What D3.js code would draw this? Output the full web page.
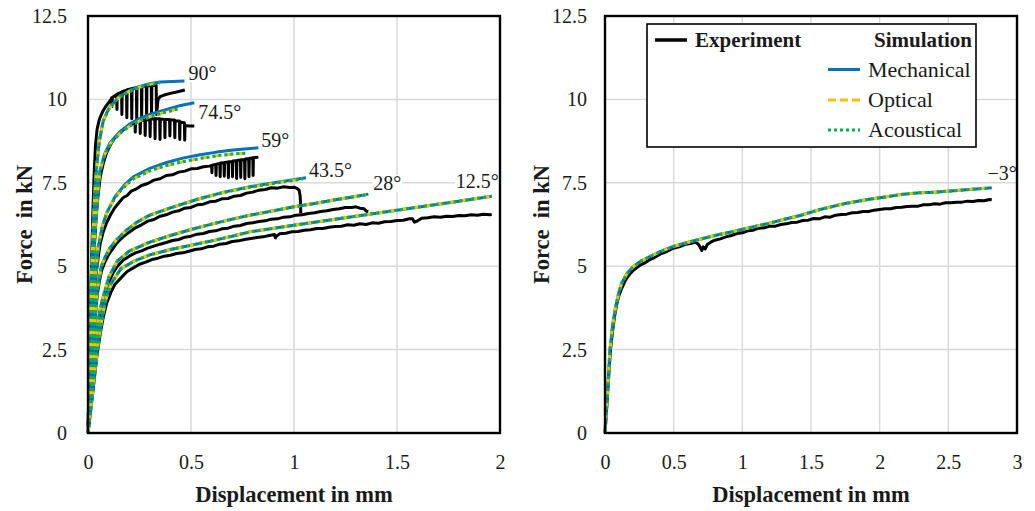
<!DOCTYPE html>
<html>
<head>
<meta charset="utf-8">
<script src="https://cdn.jsdelivr.net/npm/d3@7"></script>
<style>
  html, body { margin: 0; padding: 0; background: #fff; }
  svg { display: block; font-family: "Liberation Serif", "DejaVu Serif", serif; }
</style>
</head>
<body>
<svg id="chart" width="1035" height="511"></svg>
<script>
// ---- axis ticks ----
const yTicks = [0, 2.5, 5, 7.5, 10, 12.5];
const xTicksLeft = [0, 0.5, 1, 1.5, 2];
const xTicksRight = [0, 0.5, 1, 1.5, 2, 2.5, 3];

// ---- fibre angles ----
const anglesLeft = ["90°", "74.5°", "59°", "43.5°", "28°", "12.5°"];
const angleRight = "−3°";

// ---- experiment: force (kN) over displacement (mm) ----
const experiment90 = [[0,0],[0.006,1.8],[0.012,3.6],[0.018,5.3],[0.024,6.7],[0.03,7.8],[0.036,8.6],[0.044,9.1],[0.055,9.4],[0.07,9.62],[0.085,9.78],[0.1,9.9],[0.112,10.0],
  [0.115,10.05],[0.1165,9.78],[0.118,10.06],[0.139,10.15],[0.1405,9.7],[0.142,10.16],[0.163,10.22],[0.1645,9.55],[0.166,10.23],
  [0.187,10.28],[0.1885,9.45],[0.19,10.29],[0.211,10.32],[0.2125,9.42],[0.214,10.33],[0.235,10.35],[0.2365,9.4],[0.238,10.36],
  [0.259,10.38],[0.2605,9.42],[0.262,10.39],[0.283,10.4],[0.2845,9.4],[0.286,10.41],[0.307,10.42],[0.3085,9.45],[0.31,10.42],
  [0.331,10.42],[0.3325,9.55],[0.34,10.0],[0.35,10.08],[0.37,10.13],[0.4,10.18],[0.43,10.22],[0.47,10.28]];
const experiment745 = [[0,0],[0.008,1.5],[0.016,3.2],[0.024,4.6],[0.032,5.7],[0.04,6.5],[0.05,7.2],[0.06,7.7],[0.075,8.1],[0.09,8.4],[0.11,8.65],[0.13,8.85],[0.15,8.98],[0.17,9.08],[0.19,9.18],[0.21,9.25],
  [0.228,9.32],[0.2295,9.02],[0.231,9.33],[0.252,9.36],[0.2535,8.98],[0.255,9.37],[0.276,9.38],[0.2775,8.92],[0.279,9.39],
  [0.3,9.4],[0.3015,8.88],[0.303,9.41],[0.324,9.42],[0.3255,8.82],[0.327,9.42],[0.348,9.42],[0.3495,8.8],[0.351,9.41],
  [0.372,9.4],[0.3735,8.85],[0.375,9.4],[0.396,9.4],[0.3975,8.9],[0.399,9.39],[0.42,9.38],[0.4215,8.85],[0.423,9.36],
  [0.444,9.35],[0.4455,8.8],[0.447,9.32],[0.468,9.3],[0.4695,8.78],[0.471,9.22],[0.49,9.2],[0.516,9.2]];
const experiment59 = [[0,0],[0.01,1.4],[0.02,2.9],[0.03,4.0],[0.04,4.8],[0.05,5.3],[0.06,5.7],[0.075,6.05],[0.09,6.3],[0.11,6.55],[0.13,6.75],[0.15,6.9],[0.17,7.05],[0.19,7.12],[0.21,7.25],[0.23,7.3],[0.26,7.42],[0.29,7.48],[0.32,7.58],[0.35,7.62],[0.38,7.72],[0.41,7.74],[0.44,7.82],[0.47,7.85],[0.5,7.92],[0.53,7.93],[0.56,7.98],[0.59,8.0],
  [0.6,8.02],[0.6015,7.8],[0.603,8.03],[0.62,8.05],[0.6215,7.72],[0.623,8.06],[0.64,8.08],[0.6415,7.68],[0.643,8.09],
  [0.66,8.1],[0.6615,7.7],[0.663,8.11],[0.68,8.12],[0.6815,7.65],[0.683,8.13],[0.7,8.14],[0.7015,7.68],[0.703,8.15],
  [0.72,8.16],[0.7215,7.63],[0.723,8.17],[0.74,8.18],[0.7415,7.66],[0.743,8.19],[0.76,8.2],[0.7615,7.62],[0.763,8.21],
  [0.78,8.22],[0.7815,7.68],[0.783,8.23],[0.8,8.25],[0.8015,7.72],[0.803,8.25],[0.815,8.26],[0.827,8.27]];
const experiment435 = [[0,0],[0.012,1.3],[0.024,2.5],[0.035,3.5],[0.045,4.15],[0.055,4.55],[0.065,4.85],[0.08,5.1],[0.1,5.35],[0.12,5.52],[0.14,5.7],[0.17,5.88],[0.2,6.02],[0.23,6.15],[0.26,6.24],[0.29,6.35],[0.32,6.4],[0.35,6.5],[0.38,6.54],[0.41,6.62],[0.44,6.66],[0.47,6.74],[0.5,6.76],[0.53,6.84],[0.56,6.86],[0.59,6.93],[0.62,6.95],[0.65,7.02],[0.68,7.03],[0.71,7.1],[0.74,7.12],[0.77,7.19],[0.8,7.22],[0.83,7.28],[0.86,7.3],[0.89,7.35],[0.92,7.34],[0.95,7.38],[0.98,7.36],[1.0,7.37],[1.015,7.33],[1.025,7.28],[1.03,7.1],[1.032,6.8],[1.033,6.58]];
const experiment28 = [[0,0],[0.02,1.5],[0.035,2.6],[0.05,3.3],[0.065,3.8],[0.08,4.15],[0.1,4.5],[0.12,4.78],[0.14,4.98],[0.17,5.18],[0.2,5.3],[0.23,5.4],[0.26,5.46],[0.29,5.54],[0.32,5.6],[0.35,5.66],[0.38,5.71],[0.41,5.77],[0.44,5.8],[0.47,5.87],[0.5,5.9],[0.53,5.96],[0.56,5.98],[0.59,6.04],[0.62,6.06],[0.65,6.12],[0.68,6.14],[0.71,6.2],[0.74,6.22],[0.77,6.28],[0.8,6.3],[0.83,6.34],[0.86,6.36],[0.89,6.41],[0.92,6.42],[0.95,6.47],[0.98,6.48],[1.01,6.53],[1.04,6.54],[1.07,6.58],[1.1,6.6],[1.13,6.64],[1.16,6.66],[1.19,6.7],[1.22,6.72],[1.25,6.76],[1.28,6.76],[1.3,6.78],[1.32,6.74],[1.34,6.72],[1.35,6.66],[1.36,6.63]];
const experiment125 = [[0,0],[0.02,1.05],[0.045,2.4],[0.06,3.0],[0.075,3.5],[0.09,3.88],[0.11,4.2],[0.13,4.45],[0.16,4.65],[0.19,4.84],[0.22,4.95],[0.25,5.06],[0.28,5.12],[0.31,5.2],[0.34,5.24],[0.37,5.3],[0.4,5.33],[0.43,5.38],[0.46,5.4],[0.49,5.45],[0.52,5.5],[0.55,5.52],[0.58,5.58],[0.61,5.6],[0.64,5.66],[0.67,5.68],[0.7,5.74],[0.73,5.76],[0.76,5.8],[0.79,5.83],[0.82,5.86],[0.85,5.88],[0.88,5.92],[0.905,5.95],[0.91,5.85],[0.915,5.9],[0.93,5.97],[0.96,5.99],[0.99,6.03],[1.02,6.04],[1.05,6.08],[1.08,6.09],[1.11,6.13],[1.14,6.13],[1.17,6.17],[1.2,6.19],[1.23,6.2],[1.26,6.24],[1.29,6.23],[1.32,6.27],[1.35,6.25],[1.38,6.3],[1.41,6.29],[1.44,6.33],[1.47,6.34],[1.5,6.37],[1.53,6.38],[1.56,6.42],[1.575,6.42],[1.585,6.32],[1.6,6.36],[1.62,6.44],[1.65,6.45],[1.68,6.48],[1.71,6.47],[1.74,6.5],[1.77,6.49],[1.8,6.52],[1.83,6.51],[1.86,6.54],[1.89,6.53],[1.92,6.56],[1.95,6.54],[1.96,6.55]];
const experimentMinus3 = [[0,0],[0.01,0.6],[0.02,1.25],[0.03,1.9],[0.04,2.5],[0.055,3.05],[0.07,3.5],[0.085,3.85],[0.1,4.1],[0.12,4.32],[0.14,4.5],[0.16,4.65],[0.18,4.76],[0.206,4.88],[0.23,4.95],[0.26,5.04],[0.29,5.1],[0.328,5.2],[0.36,5.26],[0.41,5.38],[0.45,5.44],[0.498,5.54],[0.54,5.58],[0.58,5.65],[0.62,5.68],[0.66,5.72],[0.68,5.66],[0.695,5.55],[0.705,5.47],[0.715,5.58],[0.73,5.52],[0.745,5.65],[0.77,5.72],[0.8,5.78],[0.84,5.82],[0.88,5.88],[0.92,5.92],[0.96,5.98],[1.0,6.0],[1.04,6.06],[1.08,6.08],[1.12,6.14],[1.16,6.15],[1.2,6.2],[1.24,6.2],[1.28,6.25],[1.32,6.27],[1.36,6.31],[1.4,6.32],[1.44,6.37],[1.48,6.38],[1.52,6.43],[1.56,6.42],[1.6,6.48],[1.64,6.47],[1.68,6.53],[1.72,6.55],[1.76,6.56],[1.8,6.6],[1.84,6.61],[1.88,6.64],[1.92,6.64],[1.96,6.68],[2.0,6.7],[2.04,6.72],[2.08,6.72],[2.12,6.76],[2.16,6.77],[2.2,6.79],[2.24,6.8],[2.28,6.8],[2.32,6.84],[2.36,6.84],[2.4,6.87],[2.44,6.86],[2.48,6.9],[2.52,6.9],[2.56,6.92],[2.6,6.92],[2.64,6.95],[2.68,6.94],[2.72,6.97],[2.76,6.96],[2.8,7.0],[2.816,6.99]];

// ---- simulation, mechanically identified parameters ----
const mechanical90 = [[0,0],[0.008,2.5],[0.016,4.6],[0.024,6.0],[0.032,7.1],[0.042,8.0],[0.055,8.75],[0.074,9.35],[0.1,9.72],[0.147,10.06],[0.2,10.26],[0.252,10.39],[0.3,10.47],[0.35,10.52],[0.41,10.54],[0.468,10.55]];
const mechanical745 = [[0,0],[0.012,2.5],[0.024,4.8],[0.035,6.2],[0.047,7.2],[0.058,7.85],[0.08,8.35],[0.107,8.7],[0.155,9.03],[0.2,9.25],[0.252,9.43],[0.3,9.55],[0.382,9.7],[0.45,9.82],[0.516,9.9]];
const mechanical59 = [[0,0],[0.018,2.5],[0.035,4.6],[0.05,5.6],[0.07,6.2],[0.091,6.6],[0.131,7.08],[0.175,7.42],[0.22,7.68],[0.3,7.93],[0.382,8.11],[0.46,8.24],[0.544,8.34],[0.625,8.42],[0.705,8.48],[0.827,8.55]];
const mechanical435 = [[0,0],[0.024,2.5],[0.045,4.3],[0.065,5.0],[0.085,5.3],[0.107,5.55],[0.14,5.8],[0.188,6.09],[0.24,6.33],[0.3,6.53],[0.4,6.75],[0.544,7.03],[0.66,7.22],[0.786,7.38],[0.92,7.52],[1.058,7.65]];
const mechanical28 = [[0,0],[0.032,2.5],[0.055,3.6],[0.07,4.0],[0.102,4.69],[0.142,5.15],[0.2,5.45],[0.3,5.72],[0.4,5.92],[0.5,6.1],[0.6,6.26],[0.7,6.41],[0.786,6.53],[0.9,6.66],[1.0,6.78],[1.1,6.88],[1.2,6.99],[1.3,7.09],[1.361,7.16]];
const mechanical125 = [[0,0],[0.045,2.5],[0.07,3.5],[0.086,3.99],[0.11,4.45],[0.159,4.92],[0.223,5.15],[0.3,5.34],[0.4,5.5],[0.5,5.63],[0.6,5.76],[0.7,5.9],[0.786,6.03],[1.0,6.23],[1.2,6.41],[1.4,6.59],[1.6,6.77],[1.8,6.95],[1.96,7.1]];
const mechanicalMinus3 = [[0,0],[0.018,1.2],[0.036,2.49],[0.055,3.2],[0.073,3.69],[0.1,4.2],[0.121,4.49],[0.16,4.78],[0.206,4.99],[0.26,5.15],[0.328,5.29],[0.41,5.45],[0.498,5.59],[0.6,5.71],[0.692,5.81],[0.8,5.92],[0.934,6.04],[1.05,6.15],[1.178,6.27],[1.3,6.4],[1.42,6.52],[1.566,6.7],[1.76,6.89],[1.9,6.99],[2.05,7.08],[2.173,7.16],[2.29,7.2],[2.4,7.22],[2.537,7.26],[2.65,7.3],[2.75,7.33],[2.816,7.35]];

// ---- simulation, optically identified parameters ----
const optical90 = [[0,0],[0.008,2.5],[0.016,4.6],[0.024,6.0],[0.032,7.1],[0.042,8.0],[0.055,8.75],[0.074,9.35],[0.1,9.7],[0.147,10.04],[0.2,10.24],[0.252,10.37],[0.3,10.45],[0.35,10.5]];
const optical745 = [[0,0],[0.012,2.5],[0.024,4.8],[0.035,6.2],[0.047,7.2],[0.058,7.85],[0.08,8.33],[0.107,8.66],[0.155,8.98],[0.2,9.19],[0.252,9.36],[0.3,9.48],[0.382,9.63],[0.447,9.73]];
const optical59 = [[0,0],[0.018,2.5],[0.035,4.6],[0.05,5.6],[0.07,6.2],[0.091,6.6],[0.131,7.06],[0.175,7.38],[0.22,7.62],[0.3,7.86],[0.382,8.02],[0.46,8.13],[0.544,8.23],[0.625,8.31],[0.7,8.36],[0.77,8.39]];
const optical435 = [[0,0],[0.024,2.5],[0.045,4.3],[0.065,5.0],[0.085,5.3],[0.107,5.55],[0.14,5.8],[0.188,6.09],[0.24,6.33],[0.3,6.53],[0.4,6.75],[0.544,7.03],[0.66,7.21],[0.786,7.37],[0.92,7.5],[1.045,7.62]];
const optical28 = [[0,0],[0.032,2.5],[0.055,3.6],[0.07,4.0],[0.102,4.69],[0.142,5.15],[0.2,5.45],[0.3,5.72],[0.4,5.92],[0.5,6.1],[0.6,6.26],[0.7,6.41],[0.786,6.53],[0.9,6.66],[1.0,6.78],[1.1,6.88],[1.2,6.99],[1.3,7.09],[1.35,7.14]];
const optical125 = [[0,0],[0.045,2.5],[0.07,3.5],[0.086,3.99],[0.11,4.45],[0.159,4.92],[0.223,5.15],[0.3,5.34],[0.4,5.5],[0.5,5.63],[0.6,5.76],[0.7,5.9],[0.786,6.03],[1.0,6.23],[1.2,6.41],[1.4,6.59],[1.6,6.77],[1.8,6.95],[1.95,7.09]];
const opticalMinus3 = [[0,0],[0.018,1.2],[0.036,2.49],[0.055,3.2],[0.073,3.69],[0.1,4.2],[0.121,4.49],[0.16,4.78],[0.206,4.99],[0.26,5.15],[0.328,5.29],[0.41,5.45],[0.498,5.59],[0.6,5.71],[0.692,5.81],[0.8,5.92],[0.934,6.04],[1.05,6.15],[1.178,6.27],[1.3,6.4],[1.42,6.52],[1.566,6.7],[1.76,6.89],[1.9,6.99],[2.05,7.08],[2.173,7.16],[2.29,7.2],[2.4,7.22],[2.537,7.26],[2.65,7.3],[2.75,7.33],[2.8,7.34]];

// ---- simulation, acoustically identified parameters ----
const acoustical90 = [[0,0],[0.008,2.5],[0.016,4.6],[0.024,6.0],[0.032,7.1],[0.042,8.0],[0.055,8.75],[0.074,9.35],[0.1,9.7],[0.147,10.04],[0.2,10.24],[0.252,10.37],[0.3,10.45],[0.35,10.5]];
const acoustical745 = [[0,0],[0.012,2.5],[0.024,4.8],[0.035,6.2],[0.047,7.2],[0.058,7.85],[0.08,8.33],[0.107,8.66],[0.155,8.98],[0.2,9.19],[0.252,9.36],[0.3,9.48],[0.382,9.63],[0.447,9.73]];
const acoustical59 = [[0,0],[0.018,2.5],[0.035,4.6],[0.05,5.6],[0.07,6.2],[0.091,6.6],[0.131,7.06],[0.175,7.38],[0.22,7.62],[0.3,7.86],[0.382,8.02],[0.46,8.13],[0.544,8.23],[0.625,8.31],[0.7,8.36],[0.77,8.39]];
const acoustical435 = [[0,0],[0.024,2.5],[0.045,4.3],[0.065,5.0],[0.085,5.3],[0.107,5.55],[0.14,5.8],[0.188,6.09],[0.24,6.33],[0.3,6.53],[0.4,6.75],[0.544,7.03],[0.66,7.21],[0.786,7.37],[0.92,7.5],[1.045,7.62]];
const acoustical28 = [[0,0],[0.032,2.5],[0.055,3.6],[0.07,4.0],[0.102,4.69],[0.142,5.15],[0.2,5.45],[0.3,5.72],[0.4,5.92],[0.5,6.1],[0.6,6.26],[0.7,6.41],[0.786,6.53],[0.9,6.66],[1.0,6.78],[1.1,6.88],[1.2,6.99],[1.3,7.09],[1.35,7.14]];
const acoustical125 = [[0,0],[0.045,2.5],[0.07,3.5],[0.086,3.99],[0.11,4.45],[0.159,4.92],[0.223,5.15],[0.3,5.34],[0.4,5.5],[0.5,5.63],[0.6,5.76],[0.7,5.9],[0.786,6.03],[1.0,6.23],[1.2,6.41],[1.4,6.59],[1.6,6.77],[1.8,6.95],[1.95,7.09]];
const acousticalMinus3 = [[0,0],[0.018,1.2],[0.036,2.49],[0.055,3.2],[0.073,3.69],[0.1,4.2],[0.121,4.49],[0.16,4.78],[0.206,4.99],[0.26,5.15],[0.328,5.29],[0.41,5.45],[0.498,5.59],[0.6,5.71],[0.692,5.81],[0.8,5.92],[0.934,6.04],[1.05,6.15],[1.178,6.27],[1.3,6.4],[1.42,6.52],[1.566,6.7],[1.76,6.89],[1.9,6.99],[2.05,7.08],[2.173,7.16],[2.29,7.2],[2.4,7.22],[2.537,7.26],[2.65,7.3],[2.75,7.33],[2.8,7.34]];

// ---- styling ----
const COLOR = { experiment: "#000000", mechanical: "#0070C0", optical: "#FFC000", acoustical: "#00B050", grid: "#d9d9d9" };
const STROKE = {
  experiment: { width: 3, dash: null },
  mechanical: { width: 3, dash: null },
  optical: { width: 3, dash: "8 4" },
  acoustical: { width: 3, dash: "3 3" }
};
const FONT_TICK = 20, FONT_TITLE = 22.5, FONT_LABEL = 20;

const svg = d3.select("#chart");

function drawPanel(cfg) {
  const x = d3.scaleLinear().domain(cfg.xDomain).range([cfg.left, cfg.right]);
  const y = d3.scaleLinear().domain([0, 12.5]).range([cfg.bottom, cfg.top]);
  const g = svg.append("g");

  // gridlines
  g.append("g").selectAll("line").data(cfg.xTicks.slice(1, -1)).join("line")
    .attr("x1", d => x(d)).attr("x2", d => x(d)).attr("y1", cfg.top).attr("y2", cfg.bottom)
    .attr("stroke", COLOR.grid).attr("stroke-width", 1.5);
  g.append("g").selectAll("line").data(yTicks.slice(1, -1)).join("line")
    .attr("y1", d => y(d)).attr("y2", d => y(d)).attr("x1", cfg.left).attr("x2", cfg.right)
    .attr("stroke", COLOR.grid).attr("stroke-width", 1.5);

  // axes (tick labels only; the frame is drawn separately)
  const ya = g.append("g").attr("transform", `translate(${cfg.left},0)`)
    .call(d3.axisLeft(y).tickValues(yTicks).tickSize(0).tickPadding(cfg.yPad).tickFormat(d => String(d)));
  const xa = g.append("g").attr("transform", `translate(0,${cfg.bottom})`)
    .call(d3.axisBottom(x).tickValues(cfg.xTicks).tickSize(0).tickPadding(22).tickFormat(d => String(d)));
  [ya, xa].forEach(a => {
    a.select(".domain").remove();
    a.selectAll("text").attr("font-family", "Liberation Serif, DejaVu Serif, serif")
      .attr("font-size", FONT_TICK).attr("fill", "#1a1a1a");
  });

  const line = d3.line().x(d => x(d[0])).y(d => y(d[1]));
  const layers = [
    ["experiment", cfg.experiment],
    ["mechanical", cfg.mechanical],
    ["optical", cfg.optical],
    ["acoustical", cfg.acoustical]
  ];
  layers.forEach(([key, curves]) => {
    g.append("g").selectAll("path").data(curves).join("path")
      .attr("d", line)
      .attr("fill", "none")
      .attr("stroke", COLOR[key])
      .attr("stroke-width", STROKE[key].width)
      .attr("stroke-linejoin", "round")
      .attr("stroke-dasharray", STROKE[key].dash);
  });

  // angle labels next to the end of each mechanical curve
  cfg.labels.forEach((txt, i) => {
    const end = cfg.mechanical[i][cfg.mechanical[i].length - 1];
    const off = cfg.labelOffsets[i];
    const lg = g.append("g").attr("transform", `translate(${x(end[0]) + off[0]},${y(end[1]) + off[1]})`);
    const t = lg.append("text").text(txt)
      .attr("font-size", FONT_LABEL).attr("fill", "#1a1a1a")
      .attr("text-anchor", off[2]).attr("dy", "0.34em");
    const bb = t.node().getBBox();
    lg.insert("rect", "text").attr("x", bb.x - 1).attr("y", bb.y + 3).attr("width", bb.width + 2)
      .attr("height", bb.height - 5).attr("fill", "#fff");
  });

  // frame
  g.append("rect").attr("x", cfg.left).attr("y", cfg.top)
    .attr("width", cfg.right - cfg.left).attr("height", cfg.bottom - cfg.top)
    .attr("fill", "none").attr("stroke", "#000").attr("stroke-width", 2.4);

  // axis titles
  g.append("text").text("Displacement in mm")
    .attr("x", (cfg.left + cfg.right) / 2).attr("y", 502)
    .attr("text-anchor", "middle").attr("font-weight", "bold").attr("font-size", FONT_TITLE).attr("fill", "#1a1a1a");
  g.append("text").text("Force  in kN")
    .attr("transform", `translate(${cfg.left - 56},${(cfg.top + cfg.bottom) / 2}) rotate(-90)`)
    .attr("text-anchor", "middle").attr("font-weight", "bold").attr("font-size", FONT_TITLE)
    .attr("fill", "#1a1a1a").style("white-space", "pre");

  return { x, y };
}

drawPanel({
  left: 88, right: 500, top: 16, bottom: 433, yPad: 21,
  xDomain: [0, 2], xTicks: xTicksLeft,
  experiment: [experiment90, experiment745, experiment59, experiment435, experiment28, experiment125],
  mechanical: [mechanical90, mechanical745, mechanical59, mechanical435, mechanical28, mechanical125],
  optical: [optical90, optical745, optical59, optical435, optical28, optical125],
  acoustical: [acoustical90, acoustical745, acoustical59, acoustical435, acoustical28, acoustical125],
  labels: anglesLeft,
  labelOffsets: [[4, -8, "start"], [4, 9, "start"], [3, -8, "start"], [3, -8, "start"], [5, -11, "start"], [7, -15, "end"]]
});

drawPanel({
  left: 605, right: 1017, top: 16, bottom: 433, yPad: 18,
  xDomain: [0, 3], xTicks: xTicksRight,
  experiment: [experimentMinus3],
  mechanical: [mechanicalMinus3],
  optical: [opticalMinus3],
  acoustical: [acousticalMinus3],
  labels: [angleRight],
  labelOffsets: [[25, -15, "end"]]
});

// ---- legend ----
const legend = svg.append("g");
legend.append("rect").attr("x", 647).attr("y", 24).attr("width", 329).attr("height", 123)
  .attr("fill", "#fff").attr("stroke", "#000").attr("stroke-width", 1.6);
const legendRows = [
  { key: "experiment", label: "Experiment", x: 655, y: 40, bold: true },
  { key: "mechanical", label: "Mechanical", x: 828, y: 69.5, bold: false },
  { key: "optical", label: "Optical", x: 828, y: 100, bold: false },
  { key: "acoustical", label: "Acoustical", x: 828, y: 130, bold: false }
];
legendRows.forEach(r => {
  legend.append("line").attr("x1", r.x).attr("x2", r.x + 32).attr("y1", r.y).attr("y2", r.y)
    .attr("stroke", COLOR[r.key]).attr("stroke-width", r.key === "experiment" ? 3.5 : 3)
    .attr("stroke-dasharray", STROKE[r.key].dash);
  legend.append("text").text(r.label).attr("x", r.x + 40).attr("y", r.y).attr("dy", "0.34em")
    .attr("font-size", r.bold ? 21 : 22).attr("font-weight", r.bold ? "bold" : "normal").attr("fill", "#1a1a1a");
});
legend.append("text").text("Simulation").attr("x", 972).attr("y", 40).attr("dy", "0.34em")
  .attr("text-anchor", "end").attr("font-size", 21).attr("font-weight", "bold").attr("fill", "#1a1a1a");
</script>
</body>
</html>
